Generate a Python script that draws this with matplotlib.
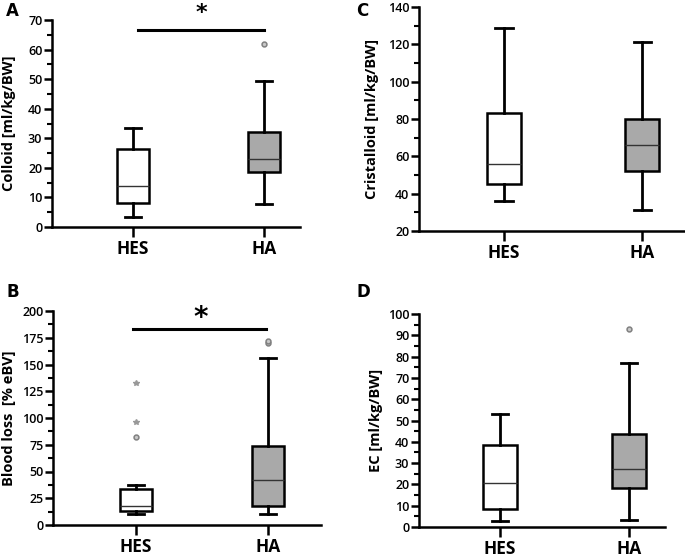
import numpy as np
import matplotlib
matplotlib.use("Agg")
import matplotlib.pyplot as plt

# --- data ---
groups = ["HES", "HA"]

colloid_lo  = [3.3, 7.8]
colloid_q1  = [8.0, 18.5]
colloid_med = [14.0, 23.0]
colloid_q3  = [26.5, 32.0]
colloid_hi  = [33.5, 49.5]
colloid_out = [[], [62.0]]

crist_lo  = [36.0, 31.0]
crist_q1  = [45.0, 52.0]
crist_med = [56.0, 66.0]
crist_q3  = [83.0, 80.0]
crist_hi  = [128.5, 121.5]
crist_out = [[], []]

blood_lo   = [10.0, 10.0]
blood_q1   = [13.0, 18.0]
blood_med  = [18.0, 42.0]
blood_q3   = [34.0, 74.0]
blood_hi   = [37.0, 156.0]
blood_out  = [[82.0], [170.0, 172.0]]
blood_ext  = [[96.0, 133.0], []]

ec_lo  = [3.0, 3.5]
ec_q1  = [8.5, 18.5]
ec_med = [20.5, 27.0]
ec_q3  = [38.5, 43.5]
ec_hi  = [53.0, 77.0]
ec_out = [[], [93.0]]

W, H = 685, 556
fig = plt.figure(figsize=(W / 100, H / 100), dpi=100)

FONT = "Open Sans"
box_colors = ["white", "#a9a9a9"]


def make_stats(lo, q1, med, q3, hi, out):
    stats = []
    for i in range(len(groups)):
        stats.append(dict(whislo=lo[i], q1=q1[i], med=med[i], q3=q3[i],
                          whishi=hi[i], fliers=out[i], label=groups[i]))
    return stats


def panel(px, ylim, yticks, minor, xlim, width, stats, ylabel, letter,
          letter_xy, ylabel_x):
    left, right, top, bottom = px
    ax = fig.add_axes([left / W, 1 - bottom / H, (right - left) / W,
                       (bottom - top) / H])
    bp = ax.bxp(stats, positions=[1, 2], widths=width, patch_artist=True,
                showcaps=True,
                boxprops=dict(linewidth=1.8, edgecolor="black"),
                whiskerprops=dict(linewidth=2.0, color="black"),
                capprops=dict(linewidth=2.0, color="black"),
                medianprops=dict(linewidth=1.0, color="#333333"),
                flierprops=dict(marker="o", markersize=3.5,
                                markerfacecolor="#c8c8c8",
                                markeredgecolor="#808080",
                                markeredgewidth=1.1))
    for patch, c in zip(bp["boxes"], box_colors):
        patch.set_facecolor(c)
    ax.set_xlim(*xlim)
    ax.set_ylim(*ylim)
    ax.set_yticks(yticks)
    ax.set_yticks(minor, minor=True)
    ax.set_xticks([1, 2])
    ax.set_xticklabels(groups, fontsize=12.5, fontweight="bold", family=FONT)
    for lab in ax.get_yticklabels():
        lab.set_fontsize(9)
        lab.set_fontweight("semibold")
        lab.set_family(FONT)
    ax.tick_params(axis="y", which="major", length=6, width=1.8, pad=1)
    ax.tick_params(axis="y", which="minor", length=3.5, width=1.5)
    ax.tick_params(axis="x", which="major", length=7, width=1.8, pad=2)
    for s in ["top", "right"]:
        ax.spines[s].set_visible(False)
    for s in ["left", "bottom"]:
        ax.spines[s].set_linewidth(1.8)
    fig.text(ylabel_x / W, 1 - ((top + bottom) / 2) / H, ylabel,
             rotation=90, ha="center", va="center", fontsize=10.5,
             fontweight="bold", family=FONT)
    fig.text(letter_xy[0] / W, 1 - letter_xy[1] / H, letter, fontsize=12,
             fontweight="bold", family="DejaVu Sans", ha="left", va="center")
    return ax


# A -- colloid
axA = panel((52, 300, 20, 227), (0, 70), np.arange(0, 71, 10),
            np.arange(0, 71, 5), (0.38, 2.275), 0.25,
            make_stats(colloid_lo, colloid_q1, colloid_med, colloid_q3,
                       colloid_hi, colloid_out),
            "Colloid [ml/kg/BW]", "A", (6, 11), 9)
axA.plot([1.04, 2.0], [66.5, 66.5], color="black", lw=2.2, clip_on=False)
axA.text(1.52, 72.5, "*", ha="center", va="center", fontsize=16,
         fontweight="bold", clip_on=False)

# C -- cristalloid
panel((419, 685, 7, 231), (20, 140), np.arange(20, 141, 20),
      np.arange(20, 141, 10), (0.384, 2.31), 0.25,
      make_stats(crist_lo, crist_q1, crist_med, crist_q3, crist_hi,
                 crist_out),
      "Cristalloid [ml/kg/BW]", "C", (356, 11), 372)

# B -- blood loss
axB = panel((53, 321, 311, 525), (0, 200), np.arange(0, 201, 25),
            np.arange(0, 201, 12.5), (0.371, 2.40), 0.24,
            make_stats(blood_lo, blood_q1, blood_med, blood_q3, blood_hi,
                       blood_out),
            "Blood loss  [% eBV]", "B", (6, 292), 9)
axB.plot([1, 1], blood_ext[0], linestyle="none", marker="*",
         markersize=4, color="#999999")
axB.plot([0.98, 1.98], [183, 183], color="black", lw=2.2, clip_on=False)
axB.text(1.49, 193, "*", ha="center", va="center", fontsize=20,
         fontweight="bold", clip_on=False)

# D -- EC
panel((419, 665, 314, 527), (0, 100), np.arange(0, 101, 10),
      np.arange(0, 101, 5), (0.372, 2.28), 0.26,
      make_stats(ec_lo, ec_q1, ec_med, ec_q3, ec_hi, ec_out),
      "EC [ml/kg/BW]", "D", (356, 292), 376)

fig.savefig("out.png", dpi=100)
